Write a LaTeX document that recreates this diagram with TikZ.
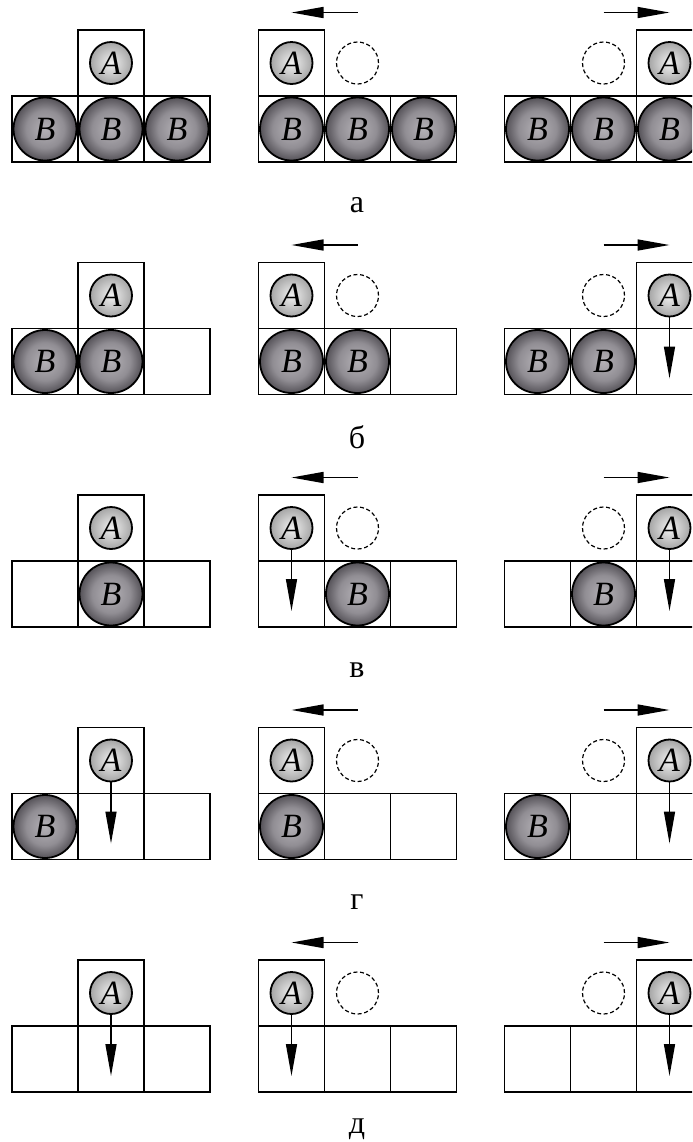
\documentclass[tikz,border=0pt]{standalone}
\usepackage{fontspec}
\setmainfont{Liberation Serif}
\usetikzlibrary{arrows.meta,calc}
\definecolor{bin}{RGB}{180,177,182}
\definecolor{bmid}{RGB}{145,142,148}
\definecolor{bout}{RGB}{85,82,88}
\definecolor{ain}{RGB}{242,242,242}
\definecolor{aout}{RGB}{165,165,165}
\pgfdeclareradialshading{shB}{\pgfpointorigin}{color(0bp)=(bin); color(15bp)=(bmid); color(25bp)=(bout)}
\pgfdeclareradialshading{shA}{\pgfpointorigin}{color(0bp)=(ain); color(25bp)=(aout)}
\tikzset{
  cell/.style={draw, line width=0.9pt, minimum size=33pt, inner sep=0pt},
  bball/.style={circle, draw, line width=0.9pt, minimum size=31.5pt, inner sep=0pt, shade, shading=shB, font=\fontsize{17}{20}\selectfont\itshape},
  aball/.style={circle, draw, line width=0.9pt, minimum size=21pt, inner sep=0pt, shade, shading=shA, font=\fontsize{17}{20}\selectfont\itshape},
  ghostball/.style={circle, draw, line width=0.6pt, dash pattern=on 2pt off 1.3pt, minimum size=21pt, inner sep=0pt},
  arr/.style={line width=0.75pt, -{Triangle[length=16pt, width=5.5pt]}},
  lab/.style={font=\fontsize{16}{18}\selectfont}
}
\newcommand\mkgrp[4]{%
  \foreach \c in {0,1,2}{\node[cell] (#1c\c) at ({#2+33+66*\c},{#3+99}) {};}
  \node[cell] (#1t) at ({#2+33+66*#4},{#3+33}) {};
}
\newcommand\mkB[2]{\node[bball] (#1b#2) at (#1c#2) {B};}
\newcommand\mkA[1]{\node[aball] (#1A) at (#1t) {A};}
\newcommand\mkG[1]{\node[ghostball] (#1g) at (#1c1 |- #1t) {};}
\newcommand\mkD[1]{\coordinate (#1d) at ($(#1t)+(0,83)$); \draw[arr] (#1A) -- (#1d);}
\newcommand\mkH[1]{\coordinate (#1h0) at ($(#1c1 |- #1t)+(0,-50.5)$); \coordinate (#1h1) at ($(#1t)+(0,-50.5)$); \draw[arr] (#1h0) -- (#1h1);}
\begin{document}
\begin{tikzpicture}[x=0.5pt, y=-0.5pt]
\useasboundingbox (0,0) rectangle (692,1142);
\clip (0,0) rectangle (692,1142);
% row a
\mkgrp{La}{12}{30}{1} \mkB{La}{0}\mkB{La}{1}\mkB{La}{2}\mkA{La}
\mkgrp{Ma}{258.5}{30}{0} \mkB{Ma}{0}\mkB{Ma}{1}\mkB{Ma}{2}\mkA{Ma}\mkG{Ma}\mkH{Ma}
\mkgrp{Ra}{504.5}{30}{2} \mkB{Ra}{0}\mkB{Ra}{1}\mkB{Ra}{2}\mkA{Ra}\mkG{Ra}\mkH{Ra}
\node[lab] (la) at (357,205) {а};
% row b
\mkgrp{Lb}{12}{262.5}{1} \mkB{Lb}{0}\mkB{Lb}{1}\mkA{Lb}
\mkgrp{Mb}{258.5}{262.5}{0} \mkB{Mb}{0}\mkB{Mb}{1}\mkA{Mb}\mkG{Mb}\mkH{Mb}
\mkgrp{Rb}{504.5}{262.5}{2} \mkB{Rb}{0}\mkB{Rb}{1}\mkA{Rb}\mkG{Rb}\mkH{Rb}\mkD{Rb}
\node[lab] (lb) at (357,437.5) {б};
% row c
\mkgrp{Lc}{12}{495}{1} \mkB{Lc}{1}\mkA{Lc}
\mkgrp{Mc}{258.5}{495}{0} \mkB{Mc}{1}\mkA{Mc}\mkG{Mc}\mkH{Mc}\mkD{Mc}
\mkgrp{Rc}{504.5}{495}{2} \mkB{Rc}{1}\mkA{Rc}\mkG{Rc}\mkH{Rc}\mkD{Rc}
\node[lab] (lc) at (357,670) {в};
% row d
\mkgrp{Ld}{12}{727.5}{1} \mkB{Ld}{0}\mkA{Ld}\mkD{Ld}
\mkgrp{Md}{258.5}{727.5}{0} \mkB{Md}{0}\mkA{Md}\mkG{Md}\mkH{Md}
\mkgrp{Rd}{504.5}{727.5}{2} \mkB{Rd}{0}\mkA{Rd}\mkG{Rd}\mkH{Rd}\mkD{Rd}
\node[lab] (ld) at (357,902.5) {г};
% row e
\mkgrp{Le}{12}{960}{1} \mkA{Le}\mkD{Le}
\mkgrp{Me}{258.5}{960}{0} \mkA{Me}\mkG{Me}\mkH{Me}\mkD{Me}
\mkgrp{Re}{504.5}{960}{2} \mkA{Re}\mkG{Re}\mkH{Re}\mkD{Re}
\node[lab] (le) at (357,1129) {д};
\end{tikzpicture}
\end{document}
